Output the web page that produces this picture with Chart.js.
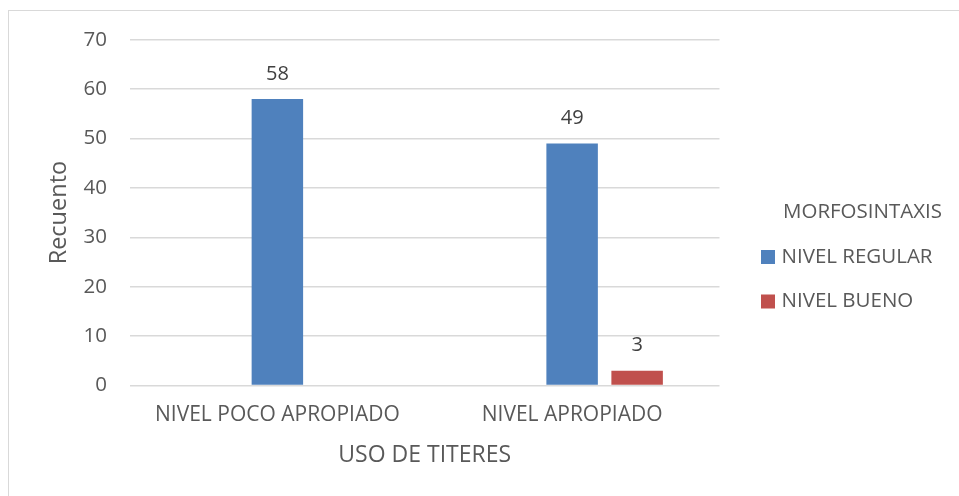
<!DOCTYPE html>
<html>
<head>
<meta charset="utf-8">
<script src="https://cdn.jsdelivr.net/npm/chart.js@4/dist/chart.umd.min.js"></script>
<style>
  html, body { margin: 0; padding: 0; background: #fff; }
  #wrap { position: relative; width: 959px; height: 496px; overflow: hidden; }
  #frame { position: absolute; left: 8px; top: 10px; width: 960px; height: 500px; border: 1px solid #d9d9d9; box-sizing: border-box; pointer-events: none; }
  canvas { position: absolute; left: 0; top: 0; }
</style>
</head>
<body>
<div id="wrap">
  <canvas id="c" width="959" height="496"></canvas>
  <div id="frame"></div>
</div>
<script>
const categories = ["NIVEL POCO APROPIADO", "NIVEL APROPIADO"];
const seriesNames = ["", "NIVEL REGULAR", "NIVEL BUENO"];
const emptySeries = [null, null];
const regularValues = [58, 49];
const buenoValues = [null, 3];
const yTicks = [0, 10, 20, 30, 40, 50, 60, 70];
const legendTitle = "MORFOSINTAXIS";
const xTitle = "USO DE TITERES";
const yTitle = "Recuento";

const FONT = "'Open Sans', sans-serif";
const TEXT = "#595959";

const dataLabels = {
  id: 'dataLabels',
  afterDatasetsDraw(chart) {
    const ctx = chart.ctx;
    ctx.save();
    ctx.font = "20px " + FONT;
    ctx.fillStyle = "#404040";
    ctx.textAlign = "center";
    ctx.textBaseline = "middle";
    chart.data.datasets.forEach((ds, i) => {
      const meta = chart.getDatasetMeta(i);
      meta.data.forEach((el, j) => {
        const v = ds.data[j];
        if (v === null || v === undefined) return;
        ctx.fillText(String(v), el.x, el.y - 25);
      });
    });
    ctx.restore();
  }
};

const customLegend = {
  id: 'customLegend',
  afterDraw(chart) {
    const ctx = chart.ctx;
    const x0 = chart.chartArea.right + 41.5;
    ctx.save();
    ctx.font = "20.5px " + FONT;
    ctx.fillStyle = TEXT;
    ctx.textAlign = "left";
    ctx.textBaseline = "middle";
    ctx.fillText(legendTitle, x0 + 22, 212);
    let y = 257;
    chart.data.datasets.forEach((ds) => {
      if (!ds.label) return;
      ctx.fillStyle = ds.backgroundColor;
      ctx.fillRect(x0, y - 7, 14, 14);
      ctx.fillStyle = TEXT;
      ctx.fillText(ds.label, x0 + 20.5, y);
      y += 44.5;
    });
    ctx.restore();
  }
};

new Chart(document.getElementById('c'), {
  type: 'bar',
  data: {
    labels: categories,
    datasets: [
      { label: seriesNames[0], data: emptySeries, backgroundColor: "#4F81BD" },
      { label: seriesNames[1], data: regularValues, backgroundColor: "#4F81BD" },
      { label: seriesNames[2], data: buenoValues, backgroundColor: "#C0504D" }
    ]
  },
  options: {
    responsive: false,
    animation: false,
    events: [],
    categoryPercentage: 0.6616,
    barPercentage: 0.792,
    layout: { padding: { top: 39.7, right: 239.5, bottom: 0, left: 0 } },
    plugins: { legend: { display: false }, tooltip: { enabled: false } },
    scales: {
      x: {
        grid: { display: false, drawTicks: false },
        border: { display: false },
        ticks: { color: TEXT, font: { family: FONT, size: 21 }, padding: 17, maxRotation: 0, autoSkip: false },
        title: { display: true, text: xTitle, color: TEXT, font: { family: FONT, size: 23 }, padding: { top: 0, bottom: 27 } },
        afterFit(scale) { scale.height = 110.5; }
      },
      y: {
        min: 0, max: 70,
        afterBuildTicks(scale) { scale.ticks = yTicks.map(v => ({ value: v })); },
        grid: { color: "#d9d9d9", lineWidth: 1.5, drawTicks: false },
        border: { display: false },
        ticks: { color: TEXT, font: { family: FONT, size: 20.5 }, padding: 23 },
        title: { display: true, text: yTitle, color: TEXT, font: { family: FONT, size: 23.5 }, padding: { top: 45, bottom: 0 } },
        afterFit(scale) { scale.width = 130; }
      }
    }
  },
  plugins: [dataLabels, customLegend]
});
</script>
</body>
</html>
